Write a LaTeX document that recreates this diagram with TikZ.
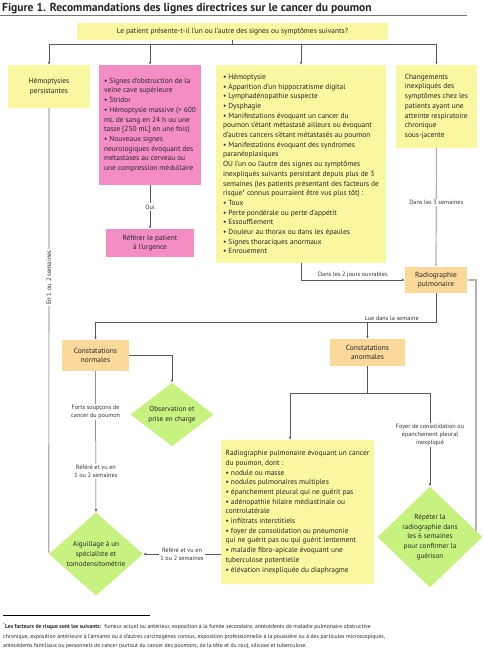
\documentclass[tikz,border=0pt]{standalone}
\usepackage{fontspec}
\setmainfont{PT Sans}
\usetikzlibrary{shapes.geometric, arrows.meta}
\definecolor{boxyellow}{HTML}{F9F79F}
\definecolor{boxpink}{HTML}{F58DC5}
\definecolor{boxorange}{HTML}{FBD99B}
\definecolor{diagreen}{HTML}{C8F27F}
\tikzset{>={Latex[length=3pt,width=2.4pt]},
         sz/.style 2 args={minimum width=#1,minimum height=#2},
         ybox/.style={fill=boxyellow,inner sep=2pt,text=black!85,font=\fontsize{7.4}{9.7}\selectfont},
         pbox/.style={ybox,fill=boxpink},
         obox/.style={ybox,fill=boxorange,align=center},
         gdiam/.style={diamond,fill=diagreen,inner sep=0pt,align=center,text=black!85,font=\fontsize{7.2}{9.7}\selectfont},
         lbl/.style={fill=white,inner sep=1.5pt,align=center,text=black!80,font=\fontsize{6.2}{7.8}\selectfont},
         conn/.style={draw=black!65,line width=0.5pt},
         longconn/.style={draw=black!30,line width=1.2pt},
        }

\begin{document}
\begin{tikzpicture}[x=1pt,y=-1pt]
        \useasboundingbox(0,0)rectangle(482,660);
        \node[anchor=base west,inner sep=0pt,text=black!85,font=\fontsize{11.6}{13}\selectfont\bfseries](title)at(2,12){Figure 1. Recommandations des lignes directrices sur le cancer du poumon};
        \draw[black!55,line width=1pt](0,15.5)--(467,15.5);

        \node[ybox,sz={311}{17}](q)at(232.5,31.5){Le patient présente-t-il l'un ou l'autre des signes ou symptômes suivants?};
        \node[ybox,sz={82}{43},align=center](hemo)at(49,86.5){Hémoptysies\\persistantes};
        \node[pbox,sz={102}{120},align=left](obst)at(150,125){\textbullet\ Signes d'obstruction de la\\veine cave supérieure\\\textbullet\ Stridor\\\textbullet\ Hémoptysie massive (> 600\\mL de sang en 24 h ou une\\tasse [250 mL] en une fois)\\\textbullet\ Nouveaux signes\\neurologiques évoquant des\\métastases au cerveau ou\\une compression médullaire};
        \node[ybox,sz={170}{198},align=left](signs)at(301,164){\textbullet\ Hémoptysie\\\textbullet\ Apparition d'un hippocratisme digital\\\textbullet\ Lymphadénopathie suspecte\\\textbullet\ Dysphagie\\\textbullet\ Manifestations évoquant un cancer du\\poumon s'étant métastasé ailleurs ou évoquant\\d'autres cancers s'étant métastasés au poumon\\\textbullet\ Manifestations évoquant des syndromes\\paranéoplasiques\\OU l'un ou l'autre des signes ou symptômes\\inexpliqués suivants persistant depuis plus de 3\\semaines (les patients présentant des facteurs de\\risque* connus pourraient être vus plus tôt) :\\\textbullet\ Toux\\\textbullet\ Perte pondérale ou perte d'appétit\\\textbullet\ Essoufflement\\\textbullet\ Douleur au thorax ou dans les épaules\\\textbullet\ Signes thoraciques anormaux\\\textbullet\ Enrouement};
        \node[ybox,sz={81}{83},align=left](chg)at(436.5,106.5){Changements\\inexpliqués des\\symptômes chez les\\patients ayant une\\atteinte respiratoire\\chronique\\sous-jacente};
        \node[pbox,sz={88}{28},align=center](urg)at(150,243){Référer le patient\\à l'urgence};
        \node[obox,sz={62}{26}](radio)at(436,280){Radiographie\\pulmonaire};
        \node[obox,sz={67}{31}](norm)at(95.5,355.5){Constatations\\normales};
        \node[obox,sz={75}{27}](anorm)at(367.5,352.5){Constatations\\anormales};
        \node[gdiam,sz={83}{57}](obs)at(172,414.5){Observation et\\prise en charge};
        \node[gdiam,sz={94}{68}](aig)at(96,554){Aiguillage à un\\spécialiste et\\tomodensitométrie};
        \node[gdiam,sz={105}{90}](rep)at(430,537){Répéter la\\radiographie dans\\les 6 semaines\\pour confirmer la\\guérison};
        \node[ybox,sz={153}{144},align=left](big)at(297.5,512){Radiographie pulmonaire évoquant un cancer\\du poumon, dont :\\\textbullet\ nodule ou masse\\\textbullet\ nodules pulmonaires multiples\\\textbullet\ épanchement pleural qui ne guérit pas\\\textbullet\ adénopathie hilaire médiastinale ou\\controlatérale\\\textbullet\ infiltrats interstitiels\\\textbullet\ foyer de consolidation ou pneumonie\\qui ne guérit pas ou qui guérit lentement\\\textbullet\ maladie fibro-apicale évoquant une\\tuberculose potentielle\\\textbullet\ élévation inexpliquée du diaphragme};

        \coordinate(j1)at(0,44);
        \coordinate(j2)at(0,322);
        \coordinate(j3)at(0,393);
        \coordinate(bt)at([xshift=-7.5pt]big.north);

        \draw[conn](q.south)--(q.south|-j1);
        \draw[conn](hemo.north|-j1)--(chg.north|-j1);
        \foreach \n in {hemo,obst,signs,chg}
            \draw[conn,->](\n.north|-j1)--(\n.north);
        \draw[longconn,->](hemo.south)--node[lbl,rotate=90,pos=0.38,font=\fontsize{6.6}{8}\selectfont]{En 1 ou 2 semaines}(aig.west);
        \draw[conn,->](obst.south)--node[lbl]{Oui}(urg.north);
        \draw[longconn,->](chg.south)--node[lbl,pos=0.46]{Dans les 3 semaines}(radio.north);
        \draw[conn,->](signs.south)|-node[lbl,pos=0.75,above,fill=none]{Dans les 2 jours ouvrables}(radio.west);
        \draw[longconn,->](rep.8)|-(radio.east);
        \draw[conn](radio.south)--(radio.south|-j2)--node[lbl,pos=0.13,above,fill=none]{Lue dans la semaine}(norm.north|-j2);
        \draw[conn,->](norm.north|-j2)--(norm.north);
        \draw[conn,->](anorm.north|-j2)--(anorm.north);
        \draw[conn,->](norm.east)-|(obs.north);
        \draw[conn,->](norm.south)--node[lbl,pos=0.29]{Forts soupçons de\\cancer du poumon}node[lbl,pos=0.71]{Référé et vu en\\1 ou 2 semaines}(aig.north);
        \draw[conn](anorm.south)--(anorm.south|-j3);
        \draw[conn](bt|-j3)--(rep.north|-j3);
        \draw[conn,->](bt|-j3)--(bt);
        \draw[conn,->](rep.north|-j3)--node[lbl,pos=0.45]{Foyer de consolidation ou\\épanchement pleural\\inexpliqué}(rep.north);
        \draw[conn,->](big.west|-aig.east)--node[lbl]{Référé et vu en\\1 ou 2 semaines}(aig.east);

        \draw[black,line width=0.5pt](3,615)--(150,615);
        \node[anchor=north west,align=left,inner sep=0pt,text=black!85,font=\fontsize{5.7}{9.4}\selectfont](fn)at(3,623){\textbf{\textsuperscript{*}Les facteurs de risque sont les suivants:}\ \ fumeur actuel ou antérieur, exposition à la fumée secondaire, antécédents de maladie pulmonaire obstructive\\chronique, exposition antérieure à l'amiante ou à d'autres carcinogènes connus, exposition professionnelle à la poussière ou à des particules microscopiques,\\antécédents familiaux ou personnels de cancer (surtout du cancer des poumons, de la tête et du cou), silicose et tuberculose.};
\end{tikzpicture}
\end{document}
